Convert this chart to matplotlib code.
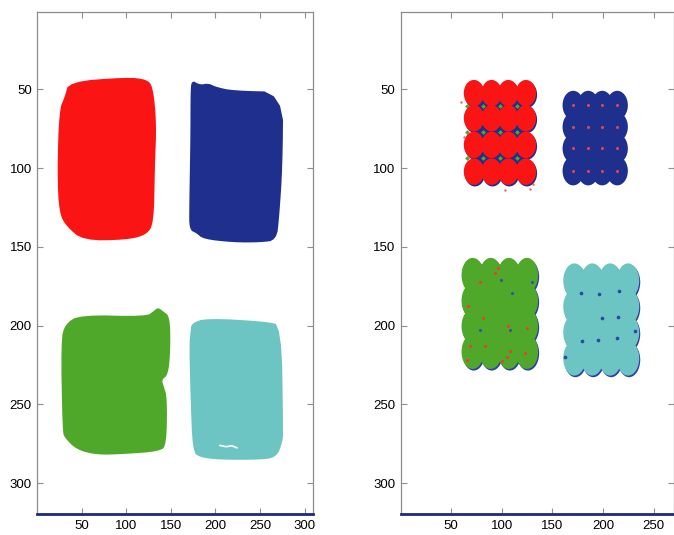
import numpy as np
import matplotlib
matplotlib.use("Agg")
import matplotlib.pyplot as plt
from matplotlib.patches import Polygon, Ellipse, Rectangle

plt.rcParams['font.family'] = ['Liberation Sans', 'DejaVu Sans']

RED = '#fb1414'
NAVY = '#1f2f8e'
GREEN = '#4fa829'
CYAN = '#6dc5c3'

# --- left panel: segmented regions (outline vertices, x=column, y=row) ---
red_x = [35.8, 100.4, 122.8, 130.0, 134.0, 132.1, 131.0, 122.8, 100.4, 51.9, 33.2, 25.0, 22.8, 25.0, 31.4]
red_y = [45.2, 42.4, 43.7, 48.3, 71.6, 99.1, 135.0, 142.4, 145.6, 146.0, 137.1, 128.6, 103.3, 63.1, 54.7]

blue_x = [173.2, 182.5, 191.9, 201.2, 219.9, 275.9, 275.1, 271.4, 268.4, 249.7, 219.9, 186.3, 178.8, 170.6, 170.6, 172.0, 172.0]
blue_y = [44.1, 47.3, 46.2, 48.7, 50.9, 51.7, 99.1, 130.8, 145.9, 147.2, 147.2, 145.1, 141.3, 139.2, 124.4, 77.9, 52.5]

green_x = [31.4, 48.2, 122.8, 131.0, 135.9, 141.5, 148.9, 149.7, 147.1, 139.6, 142.2, 145.9, 145.2, 137.7, 96.7, 66.8, 44.4, 31.4, 28.7, 26.9]
green_y = [199.0, 193.1, 194.2, 190.6, 188.5, 191.0, 194.2, 214.2, 231.2, 234.3, 238.6, 245.9, 275.6, 279.8, 281.5, 282.0, 278.7, 271.3, 267.1, 210.0]

cyan_x = [173.2, 190.0, 257.2, 274.0, 275.8, 275.2, 268.4, 249.7, 204.9, 182.5, 174.4, 172.1, 170.6, 172.1]
cyan_y = [198.4, 195.2, 197.4, 199.9, 267.1, 273.5, 283.6, 285.1, 285.1, 283.6, 279.8, 245.9, 212.1, 203.7]

scratch_x = [205.0, 212.0, 218.0, 224.0]
scratch_y = [276.0, 276.8, 276.2, 277.5]

# --- right panel: clusters of overlapping blobs (grid centres, radii) ---
red_cols = [72.7, 90.1, 106.6, 124.0]
red_rows = [52.5, 68.4, 85.3, 102.3]
red_rx, red_ry = 10.0, 8.4

navy_cols = [170.6, 185.4, 199.2, 214.0]
navy_rows = [60.2, 73.9, 87.6, 101.8]
navy_rx, navy_ry = 10.5, 9.2

green_cols = [71.5, 89.3, 107.2, 125.0]
green_rows = [168.0, 184.2, 200.3, 216.5]
green_rx, green_ry = 11.0, 11.0

cyan_cols = [171.8, 189.4, 207.1, 224.7]
cyan_rows = [171.5, 187.9, 204.3, 220.7]
cyan_rx, cyan_ry = 11.0, 11.0

# specks
gap_green_x = [81.4, 98.4, 115.3, 81.4, 98.4, 115.3, 81.4, 98.4, 115.3, 66.0, 66.0, 66.0]
gap_green_y = [60.5, 60.5, 60.5, 76.9, 76.9, 76.9, 93.8, 93.8, 93.8, 60.5, 76.9, 93.8]
stray_red_x = [60.0, 63.0, 128.0, 131.0, 103.0]
stray_red_y = [58.0, 80.0, 113.0, 110.0, 114.0]
green_red_x = [93.4, 78.6, 67.1, 81.9, 106.6, 124.7, 68.8, 83.6, 105.0, 108.2, 123.0, 65.5, 100.1, 96.7]
green_red_y = [166.7, 172.0, 187.8, 195.2, 200.5, 201.6, 213.2, 213.2, 219.6, 216.4, 217.4, 221.7, 222.7, 163.5]
green_blue_x = [109.9, 78.6, 108.2, 129.6, 99.0]
green_blue_y = [179.4, 202.6, 202.6, 172.0, 171.0]
cyan_blue_x = [178.3, 215.8, 198.7, 215.1, 178.9, 195.4, 213.4, 231.6, 162.5, 196.0]
cyan_blue_y = [179.4, 178.3, 195.2, 194.2, 210.0, 209.0, 207.9, 203.7, 219.6, 180.0]


def smooth(xs, ys, n=2):
    # chaikin corner cutting, closed outline
    p = np.column_stack([xs, ys])
    for _ in range(n):
        q = np.roll(p, -1, axis=0)
        p = np.stack([0.75 * p + 0.25 * q, 0.25 * p + 0.75 * q], axis=1).reshape(-1, 2)
    return p


fig = plt.figure(figsize=(6.74, 5.35), dpi=100)
ax1 = fig.add_axes([37.3 / 674, 21 / 535, 276.0 / 674, 501.7 / 535])
ax2 = fig.add_axes([400.7 / 674, 21 / 535, 273.3 / 674, 501.7 / 535])


def style_axes(ax, xmax, xticks):
    ax.set_xlim(0.5, xmax)
    ax.set_ylim(319.5, 1.2)
    ax.set_xticks(xticks)
    ax.set_yticks([50, 100, 150, 200, 250, 300])
    ax.tick_params(direction='in', length=4, width=0.8, color='#909090',
                   labelsize=9.5, pad=4, top=True, right=True)
    for s in ['top', 'left', 'right']:
        ax.spines[s].set_color('#8c8c8c')
        ax.spines[s].set_linewidth(0.9)
    ax.spines['bottom'].set_color('#1b2a80')
    ax.spines['bottom'].set_linewidth(2)


def blobs(ax, cols, rows, rx, ry, color, off=0.0):
    for cx in cols:
        for cy in rows:
            ax.add_patch(Ellipse((cx + off, cy + off), 2 * rx, 2 * ry, color=color, lw=0))


def cluster(ax, cols, rows, rx, ry, color, shadow=None, off=1.0):
    if shadow:
        blobs(ax, cols, rows, rx, ry, shadow, off)
    ax.add_patch(Rectangle((cols[0], rows[0]), cols[-1] - cols[0], rows[-1] - rows[0],
                           color=color, lw=0))
    blobs(ax, cols, rows, rx, ry, color)


# left
for xs, ys, c in [(red_x, red_y, RED), (blue_x, blue_y, NAVY),
                  (green_x, green_y, GREEN), (cyan_x, cyan_y, CYAN)]:
    ax1.add_patch(Polygon(smooth(xs, ys), closed=True, color=c, lw=0))
ax1.plot(scratch_x, scratch_y, color='white', lw=1.2)
style_axes(ax1, 309.5, [50, 100, 150, 200, 250, 300])

# right
ax2.add_patch(Rectangle((red_cols[0], red_rows[0]), red_cols[-1] - red_cols[0],
                        red_rows[-1] - red_rows[0], color=NAVY, lw=0))
ax2.scatter(gap_green_x, gap_green_y, s=6, color=GREEN, marker='D', lw=0)
blobs(ax2, red_cols, red_rows, red_rx, red_ry, NAVY, off=1.0)
blobs(ax2, red_cols, red_rows, red_rx, red_ry, RED)
ax2.scatter(stray_red_x, stray_red_y, s=3, color='#f06060', lw=0)

cluster(ax2, navy_cols, navy_rows, navy_rx, navy_ry, NAVY)
nx, ny = np.meshgrid(navy_cols, navy_rows)
ax2.scatter(nx.ravel(), ny.ravel(), s=5, color='#d84848', lw=0)

cluster(ax2, green_cols, green_rows, green_rx, green_ry, GREEN, shadow='#2a3fa8')
ax2.scatter(green_red_x, green_red_y, s=5, color='#e8402a', lw=0)
ax2.scatter(green_blue_x, green_blue_y, s=5, color='#2e55a0', lw=0)

cluster(ax2, cyan_cols, cyan_rows, cyan_rx, cyan_ry, CYAN, shadow='#2a3fa8')
ax2.scatter(cyan_blue_x, cyan_blue_y, s=7, color='#2a4aa0', lw=0)

style_axes(ax2, 270.0, [50, 100, 150, 200, 250])

fig.savefig('out.png', dpi=100)
